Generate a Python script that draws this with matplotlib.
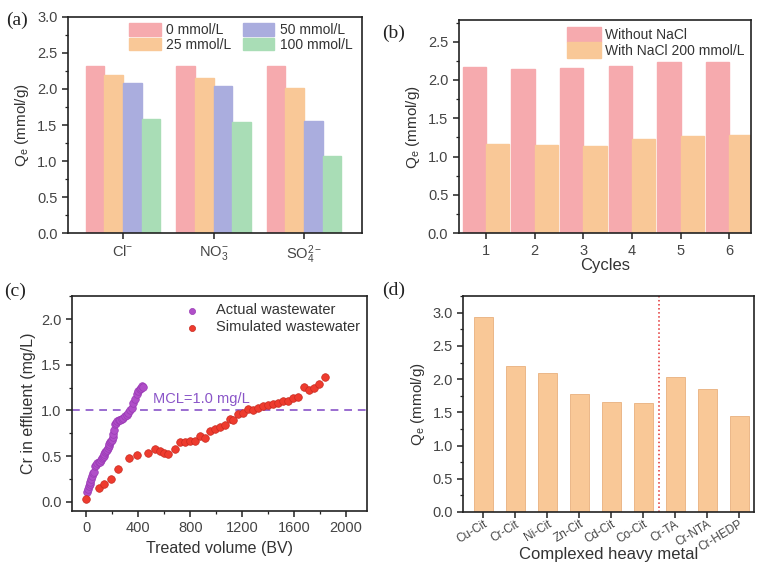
import numpy as np
import matplotlib
matplotlib.use("Agg")
import matplotlib.pyplot as plt
from matplotlib.ticker import MultipleLocator, AutoMinorLocator

plt.rcParams['font.family'] = ['Liberation Sans', 'DejaVu Sans']
plt.rcParams['mathtext.fontset'] = 'custom'
plt.rcParams['mathtext.rm'] = 'Liberation Sans'
plt.rcParams['mathtext.it'] = 'Liberation Sans'
plt.rcParams['text.color'] = '#333333'
plt.rcParams['axes.labelcolor'] = '#333333'
plt.rcParams['xtick.color'] = '#222222'
plt.rcParams['ytick.color'] = '#222222'
plt.rcParams['xtick.labelcolor'] = '#444444'
plt.rcParams['ytick.labelcolor'] = '#444444'

# ---- data ----
# (a) effect of co-existing anions
anions = [r'Cl$^{-}$', r'NO$_3^{-}$', r'SO$_4^{2-}$']
conc_labels = ['0 mmol/L', '25 mmol/L', '50 mmol/L', '100 mmol/L']
qe_0 = [2.32, 2.32, 2.32]
qe_25 = [2.19, 2.15, 2.01]
qe_50 = [2.08, 2.04, 1.56]
qe_100 = [1.59, 1.54, 1.07]

# (b) cycles
cycles = [1, 2, 3, 4, 5, 6]
qe_without = [2.17, 2.15, 2.16, 2.18, 2.23, 2.24]
qe_with = [1.17, 1.15, 1.14, 1.23, 1.27, 1.28]

# (c) column breakthrough
bv_actual = [5, 12, 18, 25, 31, 37, 43, 50, 56, 64, 72, 82, 95, 107, 114, 120, 127, 133,
             140, 146, 152, 158, 165, 171, 178, 184, 190, 197, 203, 209, 215, 222, 228,
             235, 248, 261, 274, 286, 299, 312, 324, 337, 350, 363, 375, 389, 401, 414,
             420, 427, 440]
cr_actual = [0.11, 0.14, 0.17, 0.19, 0.22, 0.25, 0.28, 0.31, 0.33, 0.39, 0.40, 0.42, 0.43,
             0.44, 0.46, 0.48, 0.49, 0.50, 0.52, 0.54, 0.55, 0.57, 0.59, 0.61, 0.63, 0.65,
             0.66, 0.68, 0.71, 0.74, 0.79, 0.85, 0.86, 0.88, 0.89, 0.90, 0.91, 0.92, 0.94,
             0.95, 0.97, 1.00, 1.03, 1.08, 1.12, 1.18, 1.21, 1.23, 1.25, 1.27, 1.26]
bv_sim = [0, 95, 140, 192, 243, 332, 388, 477, 529, 567, 600, 631, 682, 720, 759, 797,
          835, 874, 912, 950, 989, 1028, 1066, 1104, 1130, 1169, 1207, 1245, 1283, 1322,
          1360, 1398, 1436, 1475, 1513, 1551, 1590, 1628, 1679, 1717, 1755, 1794, 1840]
cr_sim = [0.03, 0.15, 0.19, 0.25, 0.36, 0.48, 0.51, 0.53, 0.58, 0.55, 0.53, 0.52, 0.58,
          0.65, 0.65, 0.66, 0.66, 0.72, 0.70, 0.77, 0.80, 0.82, 0.84, 0.91, 0.90, 0.96,
          0.97, 1.01, 1.00, 1.03, 1.05, 1.06, 1.07, 1.08, 1.10, 1.10, 1.13, 1.15, 1.26,
          1.22, 1.25, 1.29, 1.37]
mcl = 1.0

# (d) complexed heavy metals
metals = ['Cu-Cit', 'Cr-Cit', 'Ni-Cit', 'Zn-Cit', 'Cd-Cit', 'Co-Cit', 'Cr-TA', 'Cr-NTA', 'Cr-HEDP']
qe_metal = [2.93, 2.20, 2.09, 1.77, 1.65, 1.64, 2.04, 1.85, 1.45]

pink = '#F6AAAE'
peach = '#F9C897'
lav = '#AAADDE'
green = '#A9DDB6'

fig = plt.figure(figsize=(7.62, 5.62), dpi=100)
ax_a = fig.add_axes([0.089, 0.585, 0.386, 0.385])
ax_b = fig.add_axes([0.602, 0.585, 0.384, 0.379])
ax_c = fig.add_axes([0.0945, 0.091, 0.387, 0.382])
ax_d = fig.add_axes([0.608, 0.089, 0.381, 0.384])


def style(ax):
    for s in ax.spines.values():
        s.set_linewidth(1.2)
        s.set_color('#222222')
    ax.tick_params(which='major', direction='out', length=4, width=1.1, labelsize=10.5)
    ax.tick_params(which='minor', direction='out', length=2.2, width=0.9)


# (a)
x = np.arange(len(anions))
w = 0.205
for i, (vals, c, lab) in enumerate(zip([qe_0, qe_25, qe_50, qe_100],
                                       [pink, peach, lav, green], conc_labels)):
    ax_a.bar(x + (i - 1.5) * w, vals, w, color=c, edgecolor=c, label=lab)
ax_a.set_xlim(-0.61, 2.64)
ax_a.set_ylim(0, 3.0)
ax_a.set_xticks(x)
ax_a.set_xticklabels(anions)
ax_a.yaxis.set_major_locator(MultipleLocator(0.5))
ax_a.yaxis.set_minor_locator(AutoMinorLocator(2))
ax_a.set_ylabel(r'Q$_e$ (mmol/g)', fontsize=11)
style(ax_a)
ax_a.legend(ncol=2, loc='upper right', frameon=False, fontsize=10, handlelength=2.3,
            handleheight=1.0, labelspacing=0.05, columnspacing=0.8, handletextpad=0.4,
            borderaxespad=0.05, bbox_to_anchor=(0.99, 1.0))

# (b)
xb = np.array(cycles)
wb = 0.48
ax_b.bar(xb - wb / 2, qe_without, wb, color=pink, edgecolor=pink, label='Without NaCl')
ax_b.bar(xb + wb / 2, qe_with, wb, color=peach, edgecolor=peach, label='With NaCl 200 mmol/L')
ax_b.set_xlim(0.44, 6.45)
ax_b.set_ylim(0, 2.78)
ax_b.set_xticks(cycles)
ax_b.yaxis.set_major_locator(MultipleLocator(0.5))
ax_b.yaxis.set_minor_locator(AutoMinorLocator(2))
ax_b.set_ylabel(r'Q$_e$ (mmol/g)', fontsize=11)
ax_b.set_xlabel('Cycles', fontsize=12, labelpad=0)
style(ax_b)
ax_b.legend(loc='upper right', frameon=False, fontsize=10, handlelength=2.4,
            handleheight=1.3, labelspacing=0.0, handletextpad=0.3, borderaxespad=0.1)

# (c)
ax_c.scatter(bv_actual, cr_actual, s=30, color='#B04FC8', edgecolor='#9A3AB5',
             linewidth=0.5, label='Actual wastewater', zorder=3)
ax_c.scatter(bv_sim, cr_sim, s=30, color='#EE3B2E', edgecolor='#C82A20',
             linewidth=0.5, label='Simulated wastewater', zorder=3)
ax_c.axhline(mcl, color='#9A6CD0', linestyle=(0, (4, 3)), linewidth=1.4, zorder=2)
ax_c.text(510, 1.12, 'MCL=1.0 mg/L', color='#8A55C8', fontsize=10.5, va='center')
ax_c.set_xlim(-110, 2160)
ax_c.set_ylim(-0.1, 2.25)
ax_c.xaxis.set_major_locator(MultipleLocator(400))
ax_c.xaxis.set_minor_locator(AutoMinorLocator(2))
ax_c.yaxis.set_major_locator(MultipleLocator(0.5))
ax_c.yaxis.set_minor_locator(AutoMinorLocator(2))
ax_c.set_xlabel('Treated volume (BV)', fontsize=11.5)
ax_c.set_ylabel('Cr in effluent (mg/L)', fontsize=11.5)
style(ax_c)
ax_c.legend(loc='upper right', frameon=False, fontsize=10.5, handletextpad=0.6,
            labelspacing=0.2, borderaxespad=0.1, markerscale=0.8)

# (d)
xd = np.arange(len(metals))
ax_d.bar(xd, qe_metal, 0.6, color=peach, edgecolor='#E8B07E', linewidth=0.6)
ax_d.axvline(5.5, color='#E23030', linestyle=':', linewidth=1.1)
ax_d.set_xlim(-0.62, 8.45)
ax_d.set_ylim(0, 3.25)
ax_d.set_xticks(xd)
ax_d.set_xticklabels(metals, rotation=31, ha='right', rotation_mode='anchor')
ax_d.yaxis.set_major_locator(MultipleLocator(0.5))
ax_d.yaxis.set_minor_locator(AutoMinorLocator(2))
ax_d.set_ylabel(r'Q$_e$ (mmol/g)', fontsize=11)
ax_d.set_xlabel('Complexed heavy metal', fontsize=12, va='center')
ax_d.xaxis.set_label_coords(0.5, -0.197)
style(ax_d)
ax_d.tick_params(axis='x', labelsize=8.5, pad=0.5)

# panel letters
for txt, px, py in [('(a)', 0.008, 0.964), ('(b)', 0.502, 0.94),
                    ('(c)', 0.006, 0.482), ('(d)', 0.502, 0.484)]:
    fig.text(px, py, txt, family=['Liberation Serif', 'DejaVu Serif'], fontsize=14,
             color='#222222', va='center', ha='left')

fig.savefig('out.png', dpi=100)
